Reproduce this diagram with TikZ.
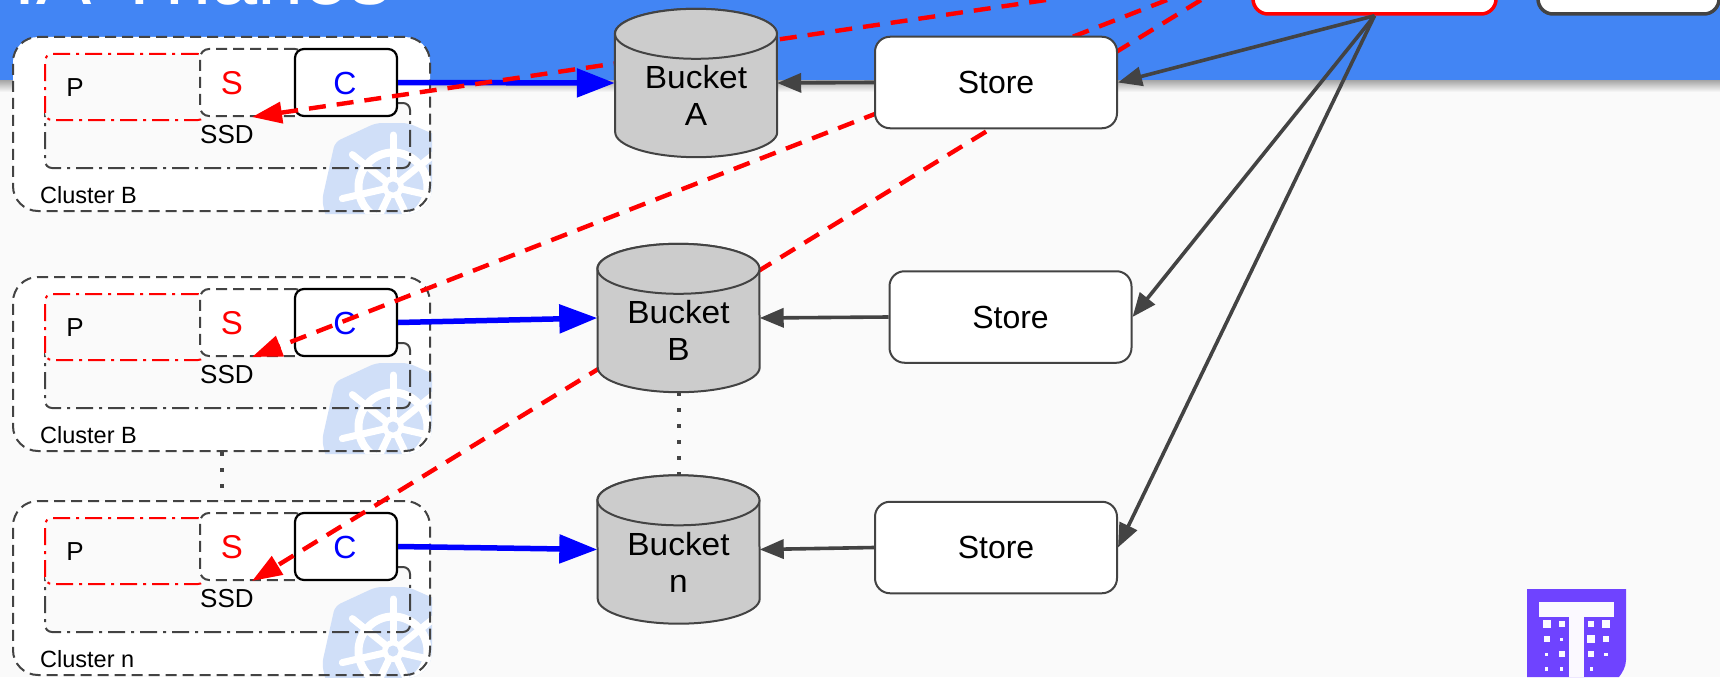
\documentclass[tikz,border=0pt]{standalone}
\usepackage{fontspec}
\setmainfont{Liberation Sans}
\newfontfamily\bucketfont[FakeStretch=1.045]{Liberation Sans}
\usetikzlibrary{arrows.meta,calc}
\definecolor{hdr}{HTML}{4285F4}
\definecolor{pagebg}{HTML}{FAFAFA}
\definecolor{ink}{HTML}{434343}
\definecolor{kube}{HTML}{D0DFF8}
\definecolor{tlogo}{HTML}{6F43FF}
\definecolor{bucketgrey}{HTML}{CCCCCC}
\newcommand{\fsz}[1]{\fontsize{#1}{#1}\selectfont}
\tikzset{
  box/.style={rectangle,inner sep=0pt,rounded corners=15pt},
  clusterbox/.style={box,rounded corners=25pt,minimum width=417pt,minimum height=174pt,draw=ink,line width=2pt,dash pattern=on 11pt off 6pt},
  ssdbox/.style={box,rounded corners=7pt,minimum width=365pt,minimum height=65pt,draw=ink,line width=2pt,dash pattern=on 17pt off 6pt on 3pt off 6pt},
  podbox/.style={box,rounded corners=7pt,minimum width=160pt,minimum height=66pt,draw=red,fill=pagebg,line width=2pt,dash pattern=on 17pt off 6pt on 3pt off 6pt},
  sidecar/.style={box,rounded corners=9pt,minimum width=104pt,minimum height=67pt,draw=ink,fill=white,line width=2pt,dash pattern=on 11pt off 6pt},
  compact/.style={box,rounded corners=9pt,minimum width=102pt,minimum height=67pt,draw=black,fill=white,line width=2.2pt},
  storebox/.style={box,minimum width=242pt,minimum height=91.5pt,draw=ink,fill=white,line width=2pt,font=\fsz{32}},
  topbox/.style={box,minimum height=74pt,fill=white,line width=3.5pt},
  bucketbody/.style={rectangle,inner sep=0pt,minimum width=162pt,minimum height=148pt},
  bucketshape/.style={fill=bucketgrey,draw=ink,line width=2pt},
  bucketlabel/.style={inner sep=0pt,align=center,font=\bucketfont\fontsize{32}{37}\selectfont},
  small/.style={inner sep=0pt,anchor=west},
  upload/.style={draw=blue,line width=5.5pt,-{Triangle[length=38pt,width=28pt]}},
  fetch/.style={draw=ink,line width=3.6pt,-{Triangle[length=24pt,width=19pt]}},
  query/.style={draw=red,line width=4.4pt,dash pattern=on 17pt off 11pt,-{Triangle[length=30pt,width=21pt]}},
  dotted link/.style={draw=ink,line width=4pt,dash pattern=on 4pt off 12pt},
}
\begin{document}
\begin{tikzpicture}[x=1pt,y=1pt]
\useasboundingbox (0,-677) rectangle (1720,0);
% page and header
\fill[pagebg] (0,-677) rectangle (1720,0);
\shade[top color=black!38,bottom color=pagebg] (0,-92) rectangle (1720,-79);
\fill[hdr] (0,-79.5) rectangle (1720,0);
\node[inner sep=0pt,anchor=base west,text=white,font=\fsz{83}] (title) at (13,-5) {IA Thanos};
\node[topbox,draw=red,minimum width=243pt] (q) at (1374.5,23) {};
\node[topbox,draw=ink,minimum width=181pt] (other) at (1628.5,23) {};
% clusters
\foreach \i/\dy/\lab in {1/0/Cluster B,2/240/Cluster B,3/464/Cluster n}{
  \fill[white,rounded corners=25pt] (13,{-37-\dy}) rectangle (430,{-211-\dy});
  \fill[pagebg,rounded corners=7pt] (45,{-103-\dy}) rectangle (410,{-168-\dy});
  % kubernetes logo
  \begin{scope}
    \clip[rounded corners=26pt] (11,{-35-\dy}) rectangle (432,{-214-\dy});
    \fill[kube,rounded corners=6pt] (376,{-123-\dy}) -- (408,{-123-\dy}) -- (470,{-150-\dy}) -- (480,{-222-\dy}) -- (327,{-222-\dy}) -- (322,{-200-\dy}) -- (335,{-142-\dy}) -- cycle;
    \draw[white,line width=8pt] (393,{-187-\dy}) circle[radius=34.5];
    \foreach \k in {0,...,6}{
      \draw[white,line width=7pt,line cap=round] (393,{-187-\dy}) -- ++({90+51.43*\k}:52);
    }
    \fill[white] (393,{-187-\dy}) circle[radius=11];
    \fill[kube] (393,{-187-\dy}) circle[radius=5.5];
  \end{scope}
  \node[clusterbox] (cl\i) at (221.5,{-124-\dy}) {};
  \node[ssdbox] (ssd\i) at (227.5,{-135.5-\dy}) {};
  \node[podbox] (p\i) at (125,{-87-\dy}) {};
  \node[sidecar] (s\i) at (252,{-82.5-\dy}) {};
  \node[compact] (c\i) at (346,{-82.5-\dy}) {};
  \node[inner sep=0pt,font=\fsz{26}] (pt\i) at (75,{-88-\dy}) {P};
  \node[inner sep=0pt,text=red,font=\fsz{33}] (st\i) at (232,{-83-\dy}) {S};
  \node[inner sep=0pt,text=blue,font=\fsz{32}] (ct\i) at (345,{-83-\dy}) {C};
  \node[small,font=\fsz{26}] (sl\i) at (200,{-135-\dy}) {SSD};
  \node[small,font=\fsz{23.5}] (cn\i) at (40,{-195-\dy}) {\lab};
}
% buckets bodies (named for the connectors)
\node[bucketbody] (bA) at (696,-83) {};
\node[bucketbody] (bB) at (678.5,-318) {};
\node[bucketbody] (bn) at (678.5,-549.5) {};
% stores
\coordinate (e1) at (1046,0);
\coordinate (e2) at (1167,0);
\coordinate (e3) at (1201,0);
\draw[upload] (c1.east) -- (bA.west);
\draw[upload] (c2.east) -- (bB.west);
\draw[upload] (c3.east) -- (bn.west);
\draw[query] (e1) -- (s1.south);
\draw[query] (e2) -- (s2.south);
\draw[query] (e3) -- (s3.south);
\foreach \b in {bA,bB,bn}{
  \draw[bucketshape] ($(\b.north west)+(0,-25)$) arc[start angle=180,end angle=0,x radius=81,y radius=25]
     -- ($(\b.south east)+(0,25)$) arc[start angle=0,end angle=-180,x radius=81,y radius=25] -- cycle;
  \draw[bucketshape] ($(\b.north)+(0,-25)$) ellipse[x radius=81,y radius=25];
}
\node[bucketlabel] (lA) at ($(bA.center)+(0,-12.5)$) {Bucket\\A};
\node[bucketlabel] (lB) at ($(bB.center)+(0,-12.5)$) {Bucket\\B};
\node[bucketlabel] (ln) at ($(bn.center)+(0,-12.5)$) {Bucket\\n};
\node[storebox] (sA) at (996,-82.5) {Store};
\node[storebox] (sB) at (1010.5,-317) {Store};
\node[storebox] (sn) at (996,-547.5) {Store};
\draw[fetch] (sA.west) -- (bA.east);
\draw[fetch] (sB.west) -- (bB.east);
\draw[fetch] (sn.west) -- (bn.east);
\draw[fetch] (q.south) -- (sA.east);
\draw[fetch] (q.south) -- (sB.east);
\draw[fetch] (q.south) -- (sn.east);
\draw[dotted link] (bB.south) -- (bn.north);
\draw[dotted link] (cl2.south) -- (cl3.north);
% T logo
\fill[tlogo] (1527,-589) -- (1626,-589) -- (1626,-660) .. controls (1626,-667) and (1622,-673) .. (1619,-677) -- (1527,-677) -- cycle;
\fill[white!97!tlogo] (1539,-602) rectangle (1614,-617);
\fill[white!97!tlogo] (1569,-617) rectangle (1584,-677);
\foreach \cx/\cy/\sz in {200/163/24,245/163/18,334/163/18,378/163/24,
                         200/208/18,245/208/10,334/208/24,378/208/18,
                         200/253/10,245/253/18,334/253/18,378/253/10,
                         200/297/10,245/297/10,334/297/10}{
  \fill[white!97!tlogo] ({1480+(\cx-\sz/2)/3},{-570-(\cy-\sz/2)/3}) rectangle ({1480+(\cx+\sz/2)/3},{-570-(\cy+\sz/2)/3});
}
\end{tikzpicture}
\end{document}
